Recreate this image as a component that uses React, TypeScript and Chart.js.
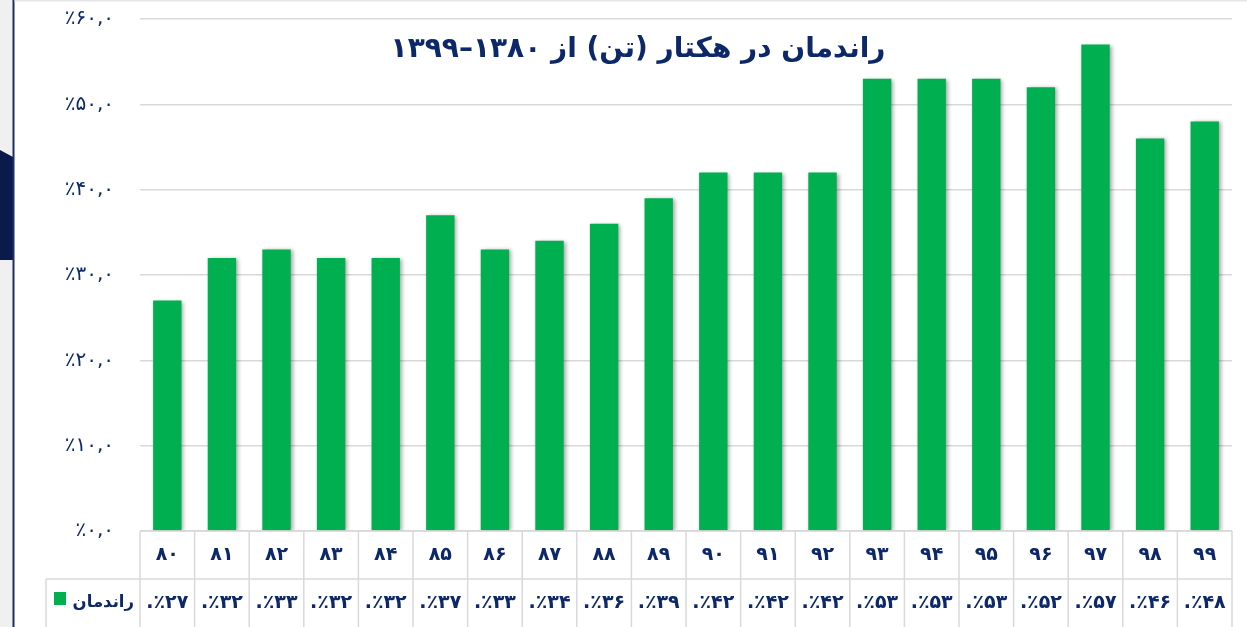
import React, { useEffect, useRef } from 'react';
import { Chart, registerables } from 'chart.js';

Chart.register(...registerables);

const categories = ['۸۰', '۸۱', '۸۲', '۸۳', '۸۴', '۸۵', '۸۶', '۸۷', '۸۸', '۸۹', '۹۰', '۹۱', '۹۲', '۹۳', '۹۴', '۹۵', '۹۶', '۹۷', '۹۸', '۹۹'];
const yieldValues = [27, 32, 33, 32, 32, 37, 33, 34, 36, 39, 42, 42, 42, 53, 53, 53, 52, 57, 46, 48];
const yTickLabels = ['٪۰,۰', '٪۱۰,۰', '٪۲۰,۰', '٪۳۰,۰', '٪۴۰,۰', '٪۵۰,۰', '٪۶۰,۰'];
const seriesName = 'راندمان';
const titleText = 'راندمان در هکتار (تن) از ۱۳۸۰–۱۳۹۹';

const NAVY = '#0d2868';
const GREEN = '#00b050';
const GRID = '#d9d9d9';
const FONT = '"DejaVu Sans", sans-serif';

const faDigits = ['۰', '۱', '۲', '۳', '۴', '۵', '۶', '۷', '۸', '۹'];
const toFa = (v: number) => String(v).replace(/[0-9]/g, (d) => faDigits[Number(d)]);
const valueLabels = yieldValues.map((v) => '.٪' + toFa(v));

const backgroundPlugin = {
  id: 'bgDecor',
  beforeDraw(chart: any) {
    const { ctx, width, height } = chart;
    ctx.save();
    ctx.fillStyle = '#ffffff';
    ctx.fillRect(0, 0, width, height);
    ctx.fillStyle = '#f0f0f0';
    ctx.fillRect(0, 0, 13, height);
    ctx.fillStyle = '#0a1a4a';
    ctx.beginPath();
    ctx.moveTo(0, 150);
    ctx.lineTo(13, 157);
    ctx.lineTo(13, 260);
    ctx.lineTo(0, 260);
    ctx.closePath();
    ctx.fill();
    ctx.fillStyle = '#1c2e63';
    ctx.fillRect(12.5, 0, 2, height);
    ctx.fillStyle = '#e6e6e6';
    ctx.fillRect(14.5, 0, width, 1.5);
    ctx.restore();
  },
};

const shadowPlugin = {
  id: 'barShadow',
  beforeDatasetsDraw(chart: any) {
    const ctx = chart.ctx;
    ctx.save();
    ctx.shadowColor = 'rgba(0,0,0,0.35)';
    ctx.shadowBlur = 4;
    ctx.shadowOffsetX = 2;
    ctx.shadowOffsetY = 1;
  },
  afterDatasetsDraw(chart: any) {
    chart.ctx.restore();
  },
};

const titlePlugin = {
  id: 'innerTitle',
  afterDraw(chart: any) {
    const ctx = chart.ctx;
    ctx.save();
    ctx.direction = 'rtl';
    ctx.fillStyle = NAVY;
    ctx.font = 'bold 28px ' + FONT;
    ctx.textAlign = 'center';
    ctx.textBaseline = 'middle';
    ctx.fillText(titleText, 638, 50);
    ctx.restore();
  },
};

const tablePlugin = {
  id: 'dataTable',
  afterDraw(chart: any) {
    const { ctx, chartArea, scales } = chart;
    const xs = scales.x;
    const n = categories.length;
    const colW = (chartArea.right - chartArea.left) / n;
    const top = chartArea.bottom;
    const mid = top + 48;
    const bottom = chart.height;
    const legendLeft = 46;
    ctx.save();
    ctx.strokeStyle = GRID;
    ctx.lineWidth = 1.5;
    const line = (x1: number, y1: number, x2: number, y2: number) => {
      ctx.beginPath();
      ctx.moveTo(x1, y1);
      ctx.lineTo(x2, y2);
      ctx.stroke();
    };
    line(chartArea.left, top, chartArea.right, top);
    line(legendLeft, mid, chartArea.right, mid);
    for (let i = 0; i <= n; i++) {
      const xx = chartArea.left + i * colW;
      line(xx, top, xx, bottom);
    }
    line(legendLeft, mid, legendLeft, bottom);

    ctx.fillStyle = NAVY;
    ctx.font = 'bold 19px ' + FONT;
    ctx.textAlign = 'center';
    ctx.textBaseline = 'middle';
    categories.forEach((c, i) => ctx.fillText(c, xs.getPixelForValue(i), top + 24));
    valueLabels.forEach((t, i) => ctx.fillText(t, xs.getPixelForValue(i), mid + 24));

    ctx.fillStyle = GREEN;
    ctx.fillRect(54, 592, 12, 13);
    ctx.fillStyle = NAVY;
    ctx.direction = 'rtl';
    ctx.textAlign = 'right';
    ctx.font = 'bold 16.5px ' + FONT;
    ctx.fillText(seriesName, 134, mid + 24);
    ctx.restore();
  },
};

export default function App() {
  const canvasRef = useRef<HTMLCanvasElement | null>(null);

  useEffect(() => {
    if (!canvasRef.current) return;
    const chart = new Chart(canvasRef.current, {
      type: 'bar',
      data: {
        labels: categories,
        datasets: [
          {
            label: seriesName,
            data: yieldValues,
            backgroundColor: GREEN,
            borderWidth: 0,
            barPercentage: 0.52,
            categoryPercentage: 1,
          },
        ],
      },
      options: {
        animation: false,
        responsive: false,
        layout: { padding: { left: 0, right: 15, top: 19, bottom: 96 } },
        plugins: {
          legend: { display: false },
          title: { display: false },
          tooltip: { enabled: false },
        },
        scales: {
          x: { display: false, offset: true },
          y: {
            min: 0,
            max: 60,
            border: { display: false },
            afterFit: (scale: any) => {
              scale.width = 140;
              scale.paddingTop = 0;
              scale.paddingBottom = 0;
            },
            grid: { color: GRID, lineWidth: 1.5, drawTicks: false },
            ticks: {
              stepSize: 10,
              padding: 26,
              color: NAVY,
              font: { family: FONT, size: 20 },
              callback: (_v: any, index: number) => yTickLabels[index],
            },
          },
        },
      },
      plugins: [backgroundPlugin, shadowPlugin, titlePlugin, tablePlugin],
    });
    return () => chart.destroy();
  }, []);

  return (
    <div style={{ position: 'absolute', left: 0, top: 0, width: 1247, height: 627 }}>
      <canvas ref={canvasRef} width={1247} height={627} />
    </div>
  );
}
